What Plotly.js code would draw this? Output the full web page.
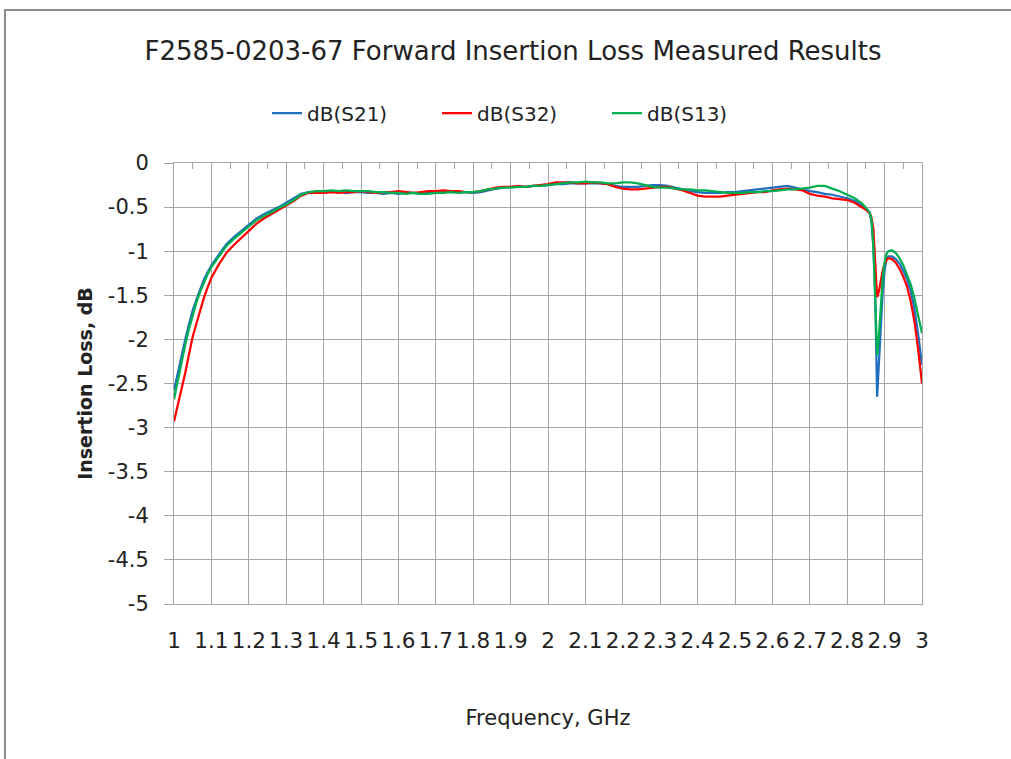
<!DOCTYPE html>
<html>
<head>
<meta charset="utf-8">
<script src="https://cdn.plot.ly/plotly-3.0.1.min.js"></script>
<style>
  html, body { margin: 0; padding: 0; background: #fff; }
  #chart { width: 1011px; height: 759px; }
</style>
</head>
<body>
<div id="chart"></div>
<script>
// Frequency, GHz
const freq = [
  1.00, 1.01, 1.02, 1.03, 1.04, 1.05, 1.06, 1.07, 1.08, 1.09, 1.10,
  1.12, 1.14, 1.16, 1.18, 1.20, 1.22, 1.24, 1.26, 1.28, 1.30,
  1.32, 1.34, 1.36, 1.38, 1.40, 1.42, 1.44, 1.46, 1.48, 1.50,
  1.52, 1.54, 1.56, 1.58, 1.60, 1.62, 1.64, 1.66, 1.68, 1.70,
  1.72, 1.74, 1.76, 1.78, 1.80, 1.82, 1.84, 1.86, 1.88, 1.90,
  1.92, 1.94, 1.96, 1.98, 2.00, 2.02, 2.04, 2.06, 2.08, 2.10,
  2.12, 2.14, 2.16, 2.18, 2.20, 2.22, 2.24, 2.26, 2.28, 2.30,
  2.32, 2.34, 2.36, 2.38, 2.40, 2.42, 2.44, 2.46, 2.48, 2.50,
  2.52, 2.54, 2.56, 2.58, 2.60, 2.62, 2.64, 2.66, 2.68, 2.70,
  2.72, 2.74, 2.76, 2.78, 2.80, 2.82, 2.84,
  2.85, 2.86, 2.865, 2.87, 2.875, 2.88, 2.885, 2.89, 2.895, 2.90, 2.905,
  2.91, 2.92, 2.93, 2.94, 2.95, 2.96, 2.97, 2.98, 2.99, 3.00
];

// dB(S21)
const s21 = [
  -2.58, -2.38, -2.18, -2.00, -1.83, -1.67, -1.55, -1.43, -1.32, -1.24, -1.16,
  -1.04, -0.92, -0.84, -0.77, -0.69, -0.63, -0.58, -0.54, -0.50, -0.45,
  -0.40, -0.35, -0.33, -0.33, -0.32, -0.33, -0.32, -0.34, -0.33, -0.33,
  -0.34, -0.34, -0.35, -0.34, -0.35, -0.34, -0.34, -0.35, -0.34, -0.33,
  -0.33, -0.32, -0.33, -0.33, -0.34, -0.33, -0.31, -0.29, -0.28, -0.27,
  -0.27, -0.27, -0.26, -0.26, -0.25, -0.24, -0.24, -0.23, -0.23, -0.23,
  -0.23, -0.23, -0.24, -0.26, -0.27, -0.27, -0.27, -0.26, -0.25, -0.25,
  -0.26, -0.28, -0.30, -0.32, -0.33, -0.34, -0.34, -0.34, -0.33, -0.33,
  -0.32, -0.31, -0.30, -0.29, -0.28, -0.27, -0.26, -0.28, -0.30, -0.32,
  -0.33, -0.35, -0.36, -0.38, -0.40, -0.43, -0.48,
  -0.52, -0.57, -0.66, -0.95, -1.50, -2.65, -2.25, -1.80, -1.45, -1.22, -1.09,
  -1.06, -1.06, -1.09, -1.14, -1.22, -1.32, -1.45, -1.66, -1.95, -2.29
];

// dB(S32)
const s32 = [
  -2.93, -2.75, -2.58, -2.38, -2.17, -1.97, -1.82, -1.67, -1.53, -1.41, -1.30,
  -1.15, -1.02, -0.93, -0.85, -0.77, -0.69, -0.63, -0.58, -0.53, -0.48,
  -0.43, -0.37, -0.34, -0.34, -0.34, -0.33, -0.34, -0.33, -0.33, -0.32,
  -0.33, -0.34, -0.33, -0.33, -0.32, -0.33, -0.34, -0.33, -0.32, -0.32,
  -0.31, -0.32, -0.32, -0.33, -0.33, -0.32, -0.30, -0.28, -0.27, -0.27,
  -0.26, -0.27, -0.26, -0.25, -0.24, -0.22, -0.22, -0.22, -0.23, -0.23,
  -0.22, -0.23, -0.24, -0.27, -0.29, -0.30, -0.30, -0.29, -0.28, -0.27,
  -0.27, -0.29, -0.31, -0.34, -0.37, -0.38, -0.38, -0.38, -0.37, -0.36,
  -0.35, -0.34, -0.33, -0.33, -0.31, -0.30, -0.29, -0.30, -0.31, -0.35,
  -0.37, -0.38, -0.40, -0.41, -0.42, -0.45, -0.50,
  -0.53, -0.57, -0.62, -0.75, -1.15, -1.52, -1.45, -1.32, -1.22, -1.14, -1.10,
  -1.08, -1.09, -1.13, -1.20, -1.29, -1.40, -1.57, -1.80, -2.12, -2.50
];

// dB(S13)
const s13 = [
  -2.68, -2.46, -2.25, -2.06, -1.88, -1.72, -1.58, -1.46, -1.35, -1.26, -1.18,
  -1.06, -0.94, -0.86, -0.79, -0.72, -0.65, -0.60, -0.56, -0.51, -0.47,
  -0.42, -0.36, -0.33, -0.32, -0.32, -0.31, -0.32, -0.31, -0.32, -0.32,
  -0.32, -0.33, -0.33, -0.34, -0.34, -0.35, -0.34, -0.35, -0.35, -0.34,
  -0.34, -0.33, -0.34, -0.33, -0.33, -0.32, -0.30, -0.29, -0.28, -0.28,
  -0.27, -0.27, -0.26, -0.26, -0.25, -0.24, -0.23, -0.22, -0.22, -0.21,
  -0.22, -0.22, -0.23, -0.23, -0.22, -0.22, -0.23, -0.25, -0.27, -0.28,
  -0.28, -0.29, -0.30, -0.30, -0.31, -0.31, -0.32, -0.33, -0.34, -0.34,
  -0.34, -0.33, -0.33, -0.32, -0.32, -0.31, -0.30, -0.30, -0.29, -0.28,
  -0.26, -0.26, -0.29, -0.32, -0.36, -0.40, -0.46,
  -0.51, -0.56, -0.64, -0.95, -1.55, -2.18, -1.95, -1.60, -1.30, -1.12, -1.03,
  -1.00, -0.99, -1.02, -1.08, -1.16, -1.26, -1.38, -1.54, -1.72, -1.93
];

const seriesNames = ['dB(S21)', 'dB(S32)', 'dB(S13)'];
const seriesColors = ['#1f6fc0', '#ff0000', '#00b050'];
const seriesData = [s21, s32, s13];

// y tick labels (plain hyphen minus, as in the reference)
const yTickVals = [0, -0.5, -1, -1.5, -2, -2.5, -3, -3.5, -4, -4.5, -5];
const yTickLabels = ['0', '-0.5', '-1', '-1.5', '-2', '-2.5', '-3', '-3.5', '-4', '-4.5', '-5'];

const FONT = '"DejaVu Sans", Verdana, sans-serif';
const TXT = '#222222';
const GRID = '#a6a6a6';

const traces = seriesData.map((ys, i) => ({
  x: freq,
  y: ys,
  type: 'scatter',
  mode: 'lines',
  name: seriesNames[i],
  line: { color: seriesColors[i], width: 2.25 },
  hoverinfo: 'x+y'
}));

// helper trace so the top (tick-mark) axis is drawn
traces.push({
  x: [null], y: [null], xaxis: 'x2', yaxis: 'y',
  type: 'scatter', mode: 'lines', showlegend: false, hoverinfo: 'skip'
});

const W = 1011, H = 759;
const L = 174, R = 922, T = 163, B = 604;
const px2x = p => (p - L) / (R - L);
const px2y = p => (B - p) / (B - T);

const layout = {
  width: W, height: H,
  margin: { l: L, r: W - R, t: T, b: H - B, pad: 0 },
  paper_bgcolor: '#ffffff',
  plot_bgcolor: '#ffffff',
  font: { family: FONT, size: 20, color: TXT },
  title: {
    text: 'F2585-0203-67 Forward Insertion Loss Measured Results',
    font: { family: FONT, size: 26, color: TXT },
    x: 513 / W, xanchor: 'center',
    y: 1 - 51 / H, yanchor: 'middle'
  },
  showlegend: true,
  legend: {
    orientation: 'h',
    x: px2x(522), xanchor: 'center',
    y: px2y(113), yanchor: 'middle',
    font: { family: FONT, size: 20, color: TXT },
    entrywidth: 125, entrywidthmode: 'pixels',
    tracegroupgap: 0
  },
  xaxis: {
    range: [1, 3],
    tick0: 1, dtick: 0.1,
    tickangle: 0,
    showgrid: true, gridcolor: GRID, gridwidth: 1,
    zeroline: false,
    showline: true, linecolor: GRID, linewidth: 1, mirror: true,
    ticks: 'outside', ticklen: 17, tickcolor: 'rgba(0,0,0,0)',
    tickfont: { family: FONT, size: 21.5, color: TXT },
    title: { text: 'Frequency, GHz', font: { family: FONT, size: 21, color: TXT }, standoff: 58 },
    fixedrange: true
  },
  xaxis2: {
    overlaying: 'x', side: 'top', anchor: 'y',
    range: [1, 3],
    tick0: 1.05, dtick: 0.1,
    showgrid: false, zeroline: false,
    showline: true, linecolor: GRID, linewidth: 1,
    ticks: 'inside', ticklen: 6, tickcolor: GRID, tickwidth: 1,
    showticklabels: false,
    fixedrange: true
  },
  yaxis: {
    range: [-5, 0],
    tickmode: 'array', tickvals: yTickVals, ticktext: yTickLabels,
    showgrid: true, gridcolor: GRID, gridwidth: 1,
    zeroline: false,
    showline: true, linecolor: GRID, linewidth: 1, mirror: true,
    ticks: 'outside', ticklen: 9, tickcolor: GRID, tickwidth: 1,
    ticklabelstandoff: 11,
    tickfont: { family: FONT, size: 21, color: TXT },
    title: { text: 'Insertion Loss, dB', font: { family: FONT, size: 19, color: TXT, weight: 'bold' }, standoff: 10 },
    fixedrange: true
  },
  shapes: [{
    type: 'path', xref: 'paper', yref: 'paper', layer: 'above',
    path: 'M ' + px2x(5) + ' ' + px2y(759) + ' L ' + px2x(5) + ' ' + px2y(10) + ' L ' + px2x(1011) + ' ' + px2y(10),
    line: { color: '#8c8c8c', width: 2 }
  }]
};

Plotly.newPlot('chart', traces, layout, { displayModeBar: false, staticPlot: true });
</script>
</body>
</html>
